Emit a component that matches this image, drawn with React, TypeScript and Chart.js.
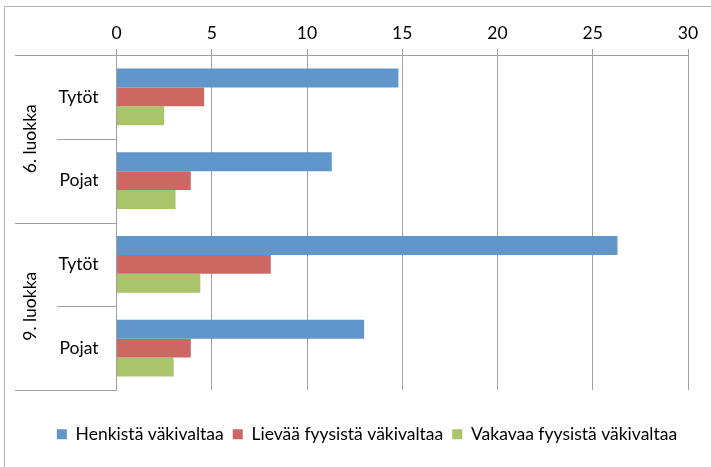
import React, { useEffect, useRef } from "react";
import { Chart, registerables } from "chart.js";

Chart.register(...registerables);

const categories = ["Tytöt", "Pojat", "Tytöt", "Pojat"];
const groups = ["6. luokka", "9. luokka"];
const seriesNames = ["Henkistä väkivaltaa", "Lievää fyysistä väkivaltaa", "Vakavaa fyysistä väkivaltaa"];
const henkista = [14.8, 11.3, 26.3, 13.0];
const lievaa = [4.6, 3.9, 8.1, 3.9];
const vakavaa = [2.5, 3.1, 4.4, 3.0];
const xTicks = [0, 5, 10, 15, 20, 25, 30];

const COLORS = ["#6096C9", "#CD6761", "#AAC46A"];
const GRID = "#a0a0a0";
const FONT = "Lato";
const FS = 17.5;

const groupPlugin = {
  id: "groupPlugin",
  beforeDraw(chart: any) {
    const ctx = chart.ctx;
    ctx.save();
    ctx.strokeStyle = "#b0b0b0";
    ctx.lineWidth = 1;
    ctx.beginPath();
    ctx.moveTo(4.5, chart.height);
    ctx.lineTo(4.5, 6.5);
    ctx.lineTo(chart.width, 6.5);
    ctx.stroke();
    ctx.restore();
  },
  afterDraw(chart: any) {
    const ctx = chart.ctx;
    const y = chart.scales.y;
    const left = chart.chartArea.left;
    const step = y.getPixelForValue(1) - y.getPixelForValue(0);
    const half = step / 2;
    ctx.save();
    ctx.strokeStyle = GRID;
    ctx.lineWidth = 1;
    for (let i = 0; i <= categories.length; i++) {
      const py = Math.round(y.getPixelForValue(0) - half + i * step) + 0.5;
      const outer = i % 2 === 0;
      ctx.beginPath();
      ctx.moveTo(outer ? 15 : 57, py);
      ctx.lineTo(left, py);
      ctx.stroke();
    }
    ctx.fillStyle = "#000";
    ctx.font = `${FS}px ${FONT}`;
    ctx.textAlign = "center";
    ctx.textBaseline = "middle";
    groups.forEach((g, gi) => {
      const c = (y.getPixelForValue(gi * 2) + y.getPixelForValue(gi * 2 + 1)) / 2;
      ctx.save();
      ctx.translate(30, c);
      ctx.rotate(-Math.PI / 2);
      ctx.fillText(g, 0, 0);
      ctx.restore();
    });
    ctx.restore();
  },
};

export default function App() {
  const ref = useRef<HTMLCanvasElement>(null);
  useEffect(() => {
    if (!ref.current) return;
    const data = {
      labels: categories,
      datasets: [henkista, lievaa, vakavaa].map((d, i) => ({
        label: seriesNames[i],
        data: d,
        backgroundColor: COLORS[i],
        borderWidth: 0,
        xAxisID: "x",
        yAxisID: "y",
        categoryPercentage: 0.68,
        barPercentage: 1.0,
      })),
    };
    const chart = new Chart(ref.current, {
      type: "bar",
      data,
      plugins: [groupPlugin],
      options: {
        indexAxis: "y",
        animation: false,
        responsive: false,
        layout: { padding: { left: 46, right: 23, top: 0, bottom: 14 } },
        scales: {
          x: {
            position: "top",
            min: 0,
            max: 30,
            afterBuildTicks: (s: any) => {
              s.ticks = xTicks.map((v) => ({ value: v }));
            },
            afterFit: (s: any) => {
              s.height = 55;
            },
            grid: { color: GRID, tickColor: GRID, tickLength: 6, drawTicks: true },
            border: { color: GRID },
            ticks: { color: "#000", font: { family: FONT, size: FS }, padding: 5 },
          },
          x2: {
            type: "linear",
            position: "bottom",
            display: true,
            grid: { display: false, drawTicks: false },
            border: { display: false },
            ticks: { display: false },
            afterFit: (s: any) => {
              s.height = 26.5;
            },
          },
          y: {
            position: "left",
            afterFit: (s: any) => {
              s.width = 70.5;
            },
            grid: { display: false, drawTicks: false },
            border: { color: GRID },
            ticks: { color: "#000", font: { family: FONT, size: FS }, padding: 18 },
          },
        },
        plugins: {
          legend: {
            position: "bottom",
            labels: {
              boxWidth: 10,
              boxHeight: 10,
              padding: 9,
              color: "#000",
              font: { family: FONT, size: FS },
            },
          },
          tooltip: { enabled: false },
        },
      },
    } as any);
    return () => chart.destroy();
  }, []);
  return (
    <div style={{ position: "absolute", left: 0, top: 0, width: 711, height: 467 }}>
      <canvas ref={ref} width={711} height={467} style={{ display: "block" }} />
    </div>
  );
}
